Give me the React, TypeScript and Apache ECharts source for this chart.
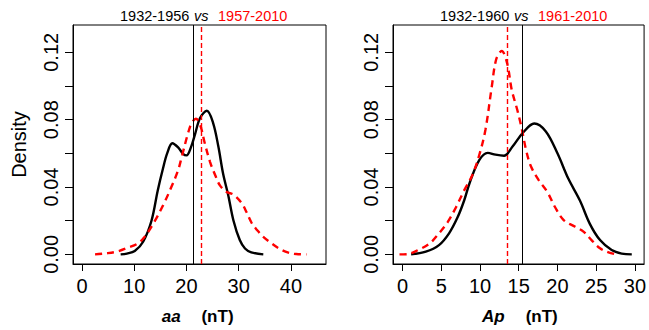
import React, { useEffect, useRef } from 'react';
import * as echarts from 'echarts';

// ---- data ----
const aaEarly: [number, number][] = [
  [7.4, 0], [8.6, 0.0005], [10.1, 0.002], [11.7, 0.0075], [13.3, 0.02], [14.5, 0.038],
  [15.5, 0.051], [16.3, 0.06], [17.3, 0.066], [18.4, 0.0635], [19.4, 0.0595], [20.0, 0.0588],
  [20.9, 0.064], [21.6, 0.071], [22.6, 0.081], [23.9, 0.0853], [25.1, 0.078], [26.1, 0.064],
  [27.0, 0.048], [28.0, 0.035], [29.0, 0.02], [30.2, 0.0085], [31.2, 0.0035], [32.4, 0.0012],
  [34.7, 0],
];
const aaLate: [number, number][] = [
  [2.5, 0], [4.6, 0.0006], [6.6, 0.0016], [8.8, 0.004], [10.7, 0.0065], [12.0, 0.0105],
  [13.6, 0.018], [15.5, 0.029], [17.1, 0.04], [18.4, 0.05], [19.1, 0.058], [20.3, 0.072],
  [21.0, 0.078], [21.8, 0.0805], [22.6, 0.077], [23.5, 0.066], [24.5, 0.055], [25.5, 0.047],
  [26.4, 0.041], [27.7, 0.037], [29.0, 0.0355], [30.6, 0.0303], [31.5, 0.025], [32.5, 0.0185],
  [33.5, 0.0145], [34.5, 0.011], [36.3, 0.0065], [38.0, 0.003], [39.5, 0.001], [41.0, 0.0002],
  [43.0, 0],
];
const apEarly: [number, number][] = [
  [1.1, 0], [3.0, 0.0016], [4.7, 0.0055], [6.0, 0.0125], [7.1, 0.022], [7.95, 0.032],
  [8.7, 0.043], [9.9, 0.056], [11.0, 0.0603], [12.0, 0.0592], [13.1, 0.0586], [14.2, 0.064],
  [15.5, 0.072], [17.0, 0.0777], [18.5, 0.073], [20.0, 0.06], [21.4, 0.045], [22.9, 0.032],
  [24.2, 0.018], [25.5, 0.0085], [27.0, 0.0026], [28.3, 0.0005], [29.6, 0],
];
const apLate: [number, number][] = [
  [-0.4, 0], [0.7, 0.0002], [2.0, 0.0026], [3.5, 0.0065], [4.7, 0.0125], [5.8, 0.019],
  [6.9, 0.028], [7.95, 0.038], [9.0, 0.047], [9.9, 0.059], [10.7, 0.074], [11.5, 0.099],
  [12.1, 0.116], [12.8, 0.1208], [13.5, 0.1135], [14.1, 0.0976], [14.8, 0.086], [15.3, 0.0765],
  [16.0, 0.061], [16.6, 0.052], [17.6, 0.044], [18.7, 0.037], [19.7, 0.028], [20.8, 0.0204],
  [22.3, 0.0164], [23.4, 0.0134], [24.4, 0.0085], [25.5, 0.0036], [26.6, 0.0012], [27.6, 0],
];
const aaMarks = [21.37, 22.9]; // early (solid black), late (dashed red)
const apMarks = [15.47, 13.54];
const aaXTicks = [0, 10, 20, 30, 40];
const apXTicks = [0, 5, 10, 15, 20, 25, 30];
const yTicks = [0, 0.02, 0.04, 0.06, 0.08, 0.1, 0.12];
const yLabels = [0, 0.04, 0.08, 0.12];
const titlesLeft = ['1932-1956', 'vs', '1957-2010'];
const titlesRight = ['1932-1960', 'vs', '1961-2010'];
const xNames = ['aa', 'Ap'];
const unitName = '(nT)';
const yName = 'Density';

const FONT = '"Liberation Sans", Arial, Helvetica, sans-serif';

export default function App() {
  const ref = useRef<HTMLDivElement>(null);
  useEffect(() => {
    if (!ref.current) return;
    const chart = echarts.init(ref.current, undefined, { renderer: 'svg' });
    const grids = [
      { left: 73, top: 25, width: 253, height: 239 },
      { left: 393, top: 25, width: 253, height: 239 },
    ];
    const xAxisBase = (idx: number, min: number, max: number, ticks: number[]) => ({
      type: 'value',
      gridIndex: idx,
      min,
      max,
      axisLine: { show: true, onZero: false, lineStyle: { color: '#000', width: 1 } },
      axisTick: { show: true, length: 7, customValues: ticks, lineStyle: { color: '#000', width: 1 } },
      axisLabel: { customValues: ticks, color: '#000', fontSize: 20, fontFamily: FONT, margin: 12 },
      splitLine: { show: false },
    });
    const yAxisBase = (idx: number) => ({
      type: 'value',
      gridIndex: idx,
      min: -0.0057,
      max: 0.1362,
      axisLine: { show: true, onZero: false, lineStyle: { color: '#000', width: 1 } },
      axisTick: { show: true, length: 8, customValues: yTicks, lineStyle: { color: '#000', width: 1 } },
      axisLabel: {
        customValues: yLabels,
        rotate: 90,
        color: '#000',
        fontSize: 20,
        fontFamily: FONT,
        margin: 12,
        formatter: (v: number) => v.toFixed(2),
      },
      splitLine: { show: false },
    });
    const curve = (idx: number, data: [number, number][], red: boolean, mark: number) => ({
      type: 'line',
      xAxisIndex: idx,
      yAxisIndex: idx,
      data,
      showSymbol: false,
      smooth: 0.35,
      lineStyle: red
        ? { color: '#FF0000', width: 2.4, type: [7, 5] }
        : { color: '#000', width: 2.4, type: 'solid' },
      markLine: {
        silent: true,
        symbol: ['none', 'none'],
        label: { show: false },
        lineStyle: red
          ? { color: '#FF0000', width: 1.4, type: [5, 3], opacity: 1 }
          : { color: '#000', width: 1, type: 'solid', opacity: 1 },
        emphasis: { disabled: true },
        data: [{ xAxis: mark }],
      },
    });
    const titleParts = (parts: string[], x0: number) => [
      { type: 'text', x: x0, y: 16, style: { text: parts[0], fontSize: 14.5, fontFamily: FONT, fill: '#000', align: 'left', verticalAlign: 'middle' } },
      { type: 'text', x: x0 + 74, y: 16, style: { text: parts[1], fontSize: 14.5, fontStyle: 'italic', fontFamily: FONT, fill: '#000', align: 'left', verticalAlign: 'middle' } },
      { type: 'text', x: x0 + 98, y: 16, style: { text: parts[2], fontSize: 14.5, fontFamily: FONT, fill: '#FF0000', align: 'left', verticalAlign: 'middle' } },
    ];
    chart.setOption({
      animation: false,
      backgroundColor: '#fff',
      grid: grids.map((g) => ({ ...g, show: true, borderColor: '#000', borderWidth: 1, backgroundColor: 'transparent' })),
      xAxis: [xAxisBase(0, -1.72, 46.7, aaXTicks), xAxisBase(1, -1.24, 31.19, apXTicks)],
      yAxis: [yAxisBase(0), yAxisBase(1)],
      series: [
        curve(0, aaEarly, false, aaMarks[0]),
        curve(0, aaLate, true, aaMarks[1]),
        curve(1, apEarly, false, apMarks[0]),
        curve(1, apLate, true, apMarks[1]),
      ],
      graphic: [
        ...titleParts(titlesLeft, 120),
        ...titleParts(titlesRight, 440),
        {
          type: 'text', x: 19, y: 144.5, rotation: Math.PI / 2,
          style: { text: yName, fontSize: 20, fontFamily: FONT, fill: '#000', align: 'center', verticalAlign: 'middle' },
        },
        {
          type: 'text', x: 171.3, y: 316,
          style: { text: xNames[0], fontSize: 17, fontWeight: 'bold', fontStyle: 'italic', fontFamily: FONT, fill: '#000', align: 'center', verticalAlign: 'middle' },
        },
        {
          type: 'text', x: 217.5, y: 316,
          style: { text: unitName, fontSize: 17, fontWeight: 'bold', fontFamily: FONT, fill: '#000', align: 'center', verticalAlign: 'middle' },
        },
        {
          type: 'text', x: 493.3, y: 316,
          style: { text: xNames[1], fontSize: 17, fontWeight: 'bold', fontStyle: 'italic', fontFamily: FONT, fill: '#000', align: 'center', verticalAlign: 'middle' },
        },
        {
          type: 'text', x: 541.7, y: 316,
          style: { text: unitName, fontSize: 17, fontWeight: 'bold', fontFamily: FONT, fill: '#000', align: 'center', verticalAlign: 'middle' },
        },
      ],
    });
    return () => chart.dispose();
  }, []);
  return <div ref={ref} style={{ position: 'absolute', left: 0, top: 0, width: 649, height: 330 }} />;
}
